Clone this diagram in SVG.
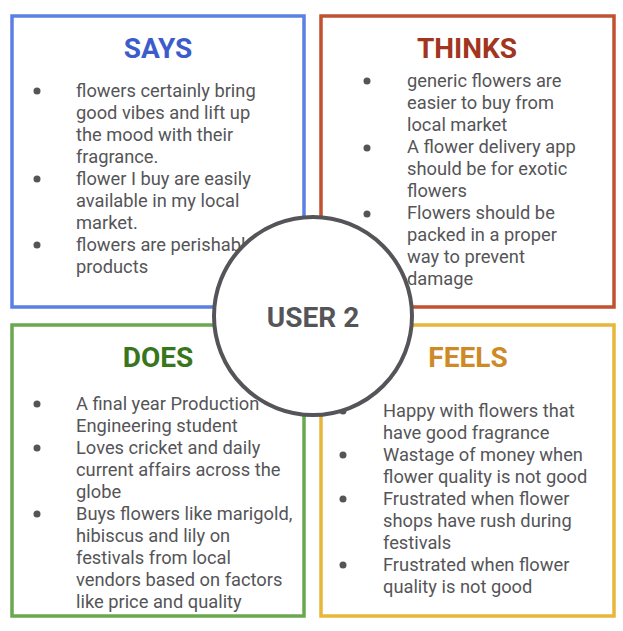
<svg xmlns="http://www.w3.org/2000/svg" width="623" height="631" viewBox="0 0 623 631">
<style>
.box{fill:#fff;stroke-width:3.5}
.title{font-family:Roboto,"Liberation Sans",sans-serif;font-weight:bold;font-size:28px;text-anchor:middle}
.t{font-family:Roboto,"Liberation Sans",sans-serif;font-size:18.3px;fill:#555558}
.b{fill:#555558}
</style>
<rect width="623" height="631" fill="#fff"/>
<g id="says">
<rect class="box" x="12" y="16" width="292" height="291" stroke="#5b7fe3"/>
<text class="title" x="158" y="58" fill="#3d5ccc">SAYS</text>
<circle class="b" cx="37" cy="91" r="3.5"/><circle class="b" cx="37" cy="179" r="3.5"/><circle class="b" cx="37" cy="245" r="3.5"/>
<text class="t"><tspan x="76" y="97">flowers certainly bring</tspan><tspan x="76" y="119">good vibes and lift up</tspan><tspan x="76" y="141">the mood with their</tspan><tspan x="76" y="163">fragrance.</tspan><tspan x="76" y="185">flower I buy are easily</tspan><tspan x="76" y="207">available in my local</tspan><tspan x="76" y="229">market.</tspan><tspan x="76" y="251">flowers are perishable</tspan><tspan x="76" y="273">products</tspan></text>
</g>
<g id="thinks">
<rect class="box" x="321" y="16" width="293" height="291" stroke="#c1512f"/>
<text class="title" x="467" y="58" fill="#a23520">THINKS</text>
<circle class="b" cx="367" cy="81" r="3.5"/><circle class="b" cx="367" cy="148" r="3.5"/><circle class="b" cx="367" cy="214" r="3.5"/>
<text class="t"><tspan x="407" y="87">generic flowers are</tspan><tspan x="407" y="109">easier to buy from</tspan><tspan x="407" y="131">local market</tspan><tspan x="407" y="153">A flower delivery app</tspan><tspan x="407" y="175">should be for exotic</tspan><tspan x="407" y="197">flowers</tspan><tspan x="407" y="219">Flowers should be</tspan><tspan x="407" y="241">packed in a proper</tspan><tspan x="407" y="263">way to prevent</tspan><tspan x="407" y="285">damage</tspan></text>
</g>
<g id="does">
<rect class="box" x="12" y="325" width="292" height="291" stroke="#6aa84f"/>
<text class="title" x="158" y="367" fill="#38761d">DOES</text>
<circle class="b" cx="37" cy="404" r="3.5"/><circle class="b" cx="37" cy="448" r="3.5"/><circle class="b" cx="37" cy="514" r="3.5"/>
<text class="t"><tspan x="76" y="410">A final year Production</tspan><tspan x="76" y="432">Engineering student</tspan><tspan x="76" y="454">Loves cricket and daily</tspan><tspan x="76" y="476">current affairs across the</tspan><tspan x="76" y="498">globe</tspan><tspan x="76" y="520">Buys flowers like marigold,</tspan><tspan x="76" y="542">hibiscus and lily on</tspan><tspan x="76" y="564">festivals from local</tspan><tspan x="76" y="586">vendors based on factors</tspan><tspan x="76" y="608">like price and quality</tspan></text>
</g>
<g id="feels">
<rect class="box" x="321" y="325" width="293" height="291" stroke="#e7b73a"/>
<text class="title" x="468" y="367" fill="#cd8a27">FEELS</text>
<circle class="b" cx="343" cy="411" r="3.5"/><circle class="b" cx="343" cy="455" r="3.5"/><circle class="b" cx="343" cy="499" r="3.5"/><circle class="b" cx="343" cy="565" r="3.5"/>
<text class="t"><tspan x="383" y="417">Happy with flowers that</tspan><tspan x="383" y="439">have good fragrance</tspan><tspan x="383" y="461">Wastage of money when</tspan><tspan x="383" y="483">flower quality is not good</tspan><tspan x="383" y="505">Frustrated when flower</tspan><tspan x="383" y="527">shops have rush during</tspan><tspan x="383" y="549">festivals</tspan><tspan x="383" y="571">Frustrated when flower</tspan><tspan x="383" y="593">quality is not good</tspan></text>
</g>
<g id="connectors"></g>
<g id="user">
<circle cx="313" cy="316" r="99" fill="#fff" stroke="#555559" stroke-width="4"/>
<text class="title" x="313" y="327" fill="#555559" font-size="29">USER 2</text>
</g>
</svg>
